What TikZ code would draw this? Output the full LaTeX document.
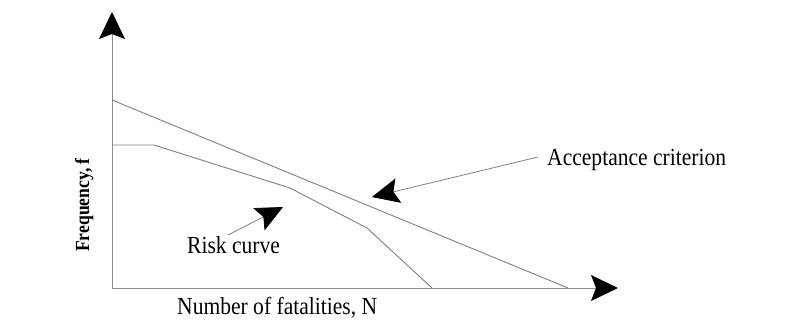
\documentclass[tikz,border=0pt]{standalone}
\usepackage{fontspec}
\setmainfont{Liberation Serif}[FakeStretch=0.88]
\usetikzlibrary{arrows.meta}

\tikzset{
  axis/.style={draw=gray!90, line width=0.9pt,
    -{Stealth[length=27pt, width=26pt, inset=5pt, black]}},
  curve/.style={draw=gray, line width=0.9pt, line join=round},
  leader/.style={draw=gray, line width=0.8pt,
    -{Stealth[length=27pt, width=25pt, inset=5pt, black]}},
  lbl/.style={inner sep=0pt, anchor=base west, font=\fontsize{24.5}{28}\selectfont},
  ylbl/.style={inner sep=0pt, anchor=base west, rotate=90,
    font=\fontsize{20}{23}\selectfont\bfseries},
}

\begin{document}
\begin{tikzpicture}[x=1pt, y=-1pt]
  \useasboundingbox[fill=white] (0,0) rectangle (790,327);

  % axes
  \coordinate (O) at (112,288);
  \coordinate (ytip) at (112,12);
  \coordinate (xtip) at (618,288);
  \draw[axis] (O) -- (ytip);
  \draw[axis] (O) -- (xtip);

  % acceptance criterion (straight line) and risk curve (piecewise)
  \coordinate (a0) at (112,100);
  \coordinate (a1) at (568,288);
  \draw[curve] (a0) -- (a1);

  \coordinate (r0) at (112,145);
  \coordinate (r1) at (154,145);
  \coordinate (r2) at (290,188);
  \coordinate (r3) at (367,228);
  \coordinate (r4) at (432,288);
  \draw[curve] (r0) -- (r1) -- (r2) -- (r3) -- (r4);

  % labels
  \node[lbl] (acc)  at (547,165) {Acceptance criterion};
  \node[lbl] (risk) at (187,253) {Risk curve};
  \node[lbl] (xlab) at (177,314) {Number of fatalities, N};
  \node[ylbl] (ylab) at (89,252) {Frequency, f};

  % pointers from labels to curves
  \coordinate (accTip) at (372,197);
  \coordinate (riskTip) at (283,207);
  \draw[leader] ([shift={(-9,-8)}]acc.base west) -- (accTip);
  \draw[leader] ([shift={(41,-18)}]risk.base west) -- (riskTip);
\end{tikzpicture}
\end{document}
